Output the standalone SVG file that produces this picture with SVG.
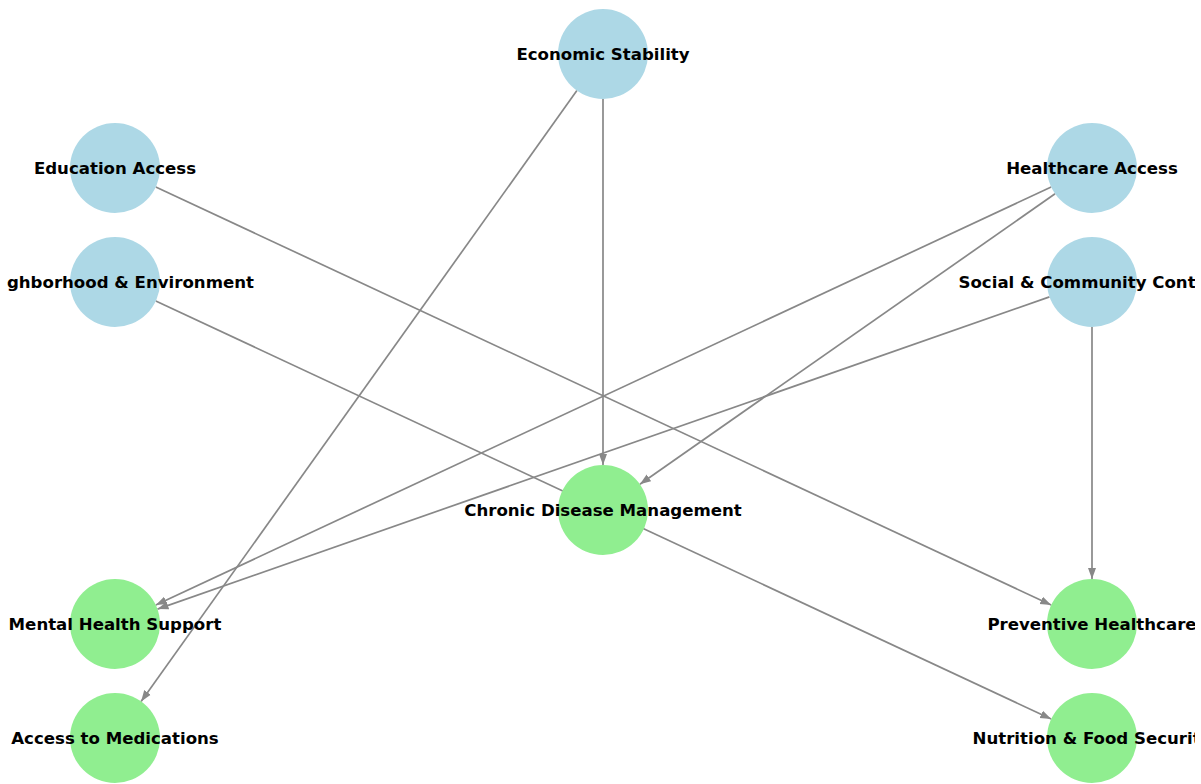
<svg xmlns="http://www.w3.org/2000/svg" width="1201" height="784" viewBox="0 0 1201 784">
<style>
.edge{stroke:#888888;stroke-width:1.7;fill:none;marker-end:url(#arr)}
.src{fill:#ADD8E6}
.tgt{fill:#90EE90}
text{font-family:"DejaVu Sans",sans-serif;font-weight:bold;font-size:16.6px;fill:#000;text-anchor:middle;clip-path:url(#axes)}
</style>
<defs>
<clipPath id="axes"><rect x="7" y="0" width="1188" height="784"/></clipPath>
<marker id="arr" markerUnits="userSpaceOnUse" markerWidth="12" markerHeight="10" viewBox="0 0 12 10" refX="11" refY="5" orient="auto">
<path d="M0,1 L11,5 L0,9 Z" fill="#888888"/>
</marker>
</defs>
<rect width="1201" height="784" fill="#fff"/>
<g id="connectors">
<line class="edge" x1="603" y1="99" x2="603" y2="465"/>
<line class="edge" x1="576.9" y1="90.6" x2="141.1" y2="701.4"/>
<line class="edge" x1="155.8" y1="187" x2="1051.2" y2="605"/>
<line class="edge" x1="155.8" y1="301" x2="1051.2" y2="719"/>
<line class="edge" x1="1051.2" y1="187" x2="155.8" y2="605"/>
<line class="edge" x1="1055.1" y1="193.8" x2="639.9" y2="484.2"/>
<line class="edge" x1="1049.5" y1="296.9" x2="157.5" y2="609.1"/>
<line class="edge" x1="1092" y1="327" x2="1092" y2="579"/>
</g>
<g id="economic-stability"><circle class="src" cx="603" cy="54" r="45"/><text x="603" y="60">Economic Stability</text></g>
<g id="education-access"><circle class="src" cx="115" cy="168" r="45"/><text x="115" y="174">Education Access</text></g>
<g id="healthcare-access"><circle class="src" cx="1092" cy="168" r="45"/><text x="1092" y="174">Healthcare Access</text></g>
<g id="neighborhood-environment"><circle class="src" cx="115" cy="282" r="45"/><text x="115" y="288">Neighborhood &amp; Environment</text></g>
<g id="social-community-context"><circle class="src" cx="1092" cy="282" r="45"/><text x="1092" y="288">Social &amp; Community Context</text></g>
<g id="chronic-disease-management"><circle class="tgt" cx="603" cy="510" r="45"/><text x="603" y="516">Chronic Disease Management</text></g>
<g id="mental-health-support"><circle class="tgt" cx="115" cy="624" r="45"/><text x="115" y="630">Mental Health Support</text></g>
<g id="preventive-healthcare"><circle class="tgt" cx="1092" cy="624" r="45"/><text x="1092" y="630">Preventive Healthcare</text></g>
<g id="access-to-medications"><circle class="tgt" cx="115" cy="738" r="45"/><text x="115" y="744">Access to Medications</text></g>
<g id="nutrition-food-security"><circle class="tgt" cx="1092" cy="738" r="45"/><text x="1092" y="744">Nutrition &amp; Food Security</text></g>
</svg>
